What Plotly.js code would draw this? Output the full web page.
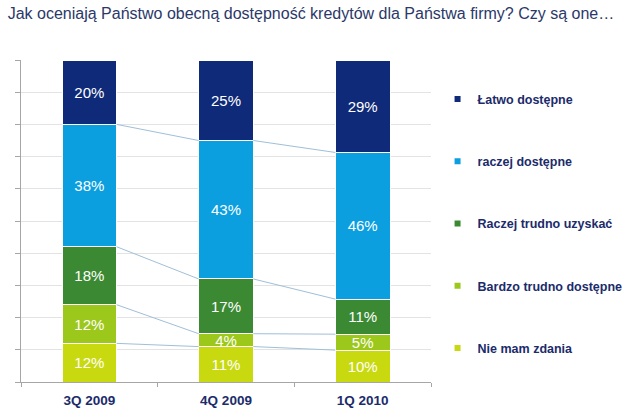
<!DOCTYPE html>
<html>
<head>
<meta charset="utf-8">
<script src="https://cdn.plot.ly/plotly-3.0.1.min.js"></script>
<style>html,body{margin:0;padding:0;background:#fff;}#chart{width:640px;height:414px;}</style>
</head>
<body>
<div id="chart"></div>
<script>
const categories = ['3Q 2009', '4Q 2009', '1Q 2010'];
const seriesNames = ['Nie mam zdania', 'Bardzo trudno dostępne', 'Raczej trudno uzyskać', 'raczej dostępne', 'Łatwo dostępne'];
const nieMamZdania = [12, 11, 10];
const bardzoTrudno = [12, 4, 5];
const raczejTrudno = [18, 17, 11];
const raczejDostepne = [38, 43, 46];
const latwoDostepne = [20, 25, 29];

const seriesValues = [nieMamZdania, bardzoTrudno, raczejTrudno, raczejDostepne, latwoDostepne];
const colors = ['#c9d90f', '#9cc71b', '#3b8a33', '#0b9fdf', '#0f2a78'];
const barWidth = 0.4;
const xIdx = categories.map((c, i) => i);

const traces = [];
seriesValues.forEach((vals, s) => {
  traces.push({
    type: 'bar', x: xIdx, y: vals, width: barWidth,
    name: seriesNames[s], showlegend: false,
    marker: {color: colors[s], line: {color: '#ffffff', width: 1}},
    text: vals.map(v => v + '%'), textposition: 'inside', insidetextanchor: 'middle',
    textfont: {family: 'Liberation Sans, Arial, sans-serif', size: 15, color: '#ffffff'},
    hoverinfo: 'skip'
  });
});

// series lines between bars
const totals = xIdx.map(i => seriesValues.reduce((a, v) => a + v[i], 0));
for (let s = 0; s < seriesValues.length - 1; s++) {
  const cum = xIdx.map(i => {
    let c = 0; for (let k = 0; k <= s; k++) c += seriesValues[k][i];
    return c / totals[i] * 100;
  });
  const lx = [], ly = [];
  for (let i = 0; i < xIdx.length - 1; i++) {
    lx.push(xIdx[i] + barWidth / 2, xIdx[i + 1] - barWidth / 2, null);
    ly.push(cum[i], cum[i + 1], null);
  }
  traces.push({type: 'scatter', mode: 'lines', x: lx, y: ly, showlegend: false,
    line: {color: '#9fbfd8', width: 1}, hoverinfo: 'skip'});
}

// legend entries
seriesNames.forEach((n, s) => {
  traces.push({type: 'scatter', mode: 'markers', x: [null], y: [null], name: n,
    legendgroup: 'g' + s, legendrank: seriesNames.length - s, showlegend: true,
    marker: {symbol: 'square', size: 6, color: colors[s]}});
});

const layout = {
  width: 640, height: 414,
  margin: {l: 21, r: 172, t: 60, b: 32},
  paper_bgcolor: '#ffffff', plot_bgcolor: '#ffffff',
  barmode: 'stack', barnorm: 'percent', bargap: 0,
  uniformtext: {mode: 'show', minsize: 15},
  title: {text: 'Jak oceniają Państwo obecną dostępność kredytów dla Państwa firmy? Czy są one…',
    x: 0.012, xanchor: 'left', y: 0.968, yanchor: 'middle',
    font: {family: 'Liberation Sans, Arial, sans-serif', size: 16, color: '#2b3868'}},
  xaxis: {
    range: [-0.5, 2.5], tickmode: 'array', tickvals: xIdx, ticktext: categories,
    showgrid: false, zeroline: false, showline: true, linecolor: '#a6a6a6', linewidth: 1,
    ticks: '', fixedrange: true, ticklabelstandoff: 6,
    tickfont: {family: 'Liberation Sans, Arial, sans-serif', size: 13.5, color: '#1b2b6b', weight: 'bold'},
    minor: {tickmode: 'array', tickvals: [-0.5, 0.5, 1.5, 2.5], ticks: 'outside', ticklen: 4, tickcolor: '#a6a6a6', showgrid: false}
  },
  yaxis: {
    range: [0, 100], tickmode: 'linear', tick0: 0, dtick: 10, showticklabels: false,
    showgrid: true, gridcolor: '#e3e3e3', gridwidth: 1, zeroline: false,
    showline: true, linecolor: '#a6a6a6', linewidth: 1,
    ticks: 'outside', ticklen: 5, tickcolor: '#a6a6a6', fixedrange: true
  },
  showlegend: true,
  legend: {x: 1.016, xanchor: 'left', y: 0.924, yanchor: 'top',
    traceorder: 'grouped', tracegroupgap: 43, itemwidth: 30,
    font: {family: 'Liberation Sans, Arial, sans-serif', size: 12.5, color: '#1b2b6b', weight: 'bold'},
    bgcolor: 'rgba(0,0,0,0)'}
};

Plotly.newPlot('chart', traces, layout, {displayModeBar: false, staticPlot: true});
</script>
</body>
</html>
